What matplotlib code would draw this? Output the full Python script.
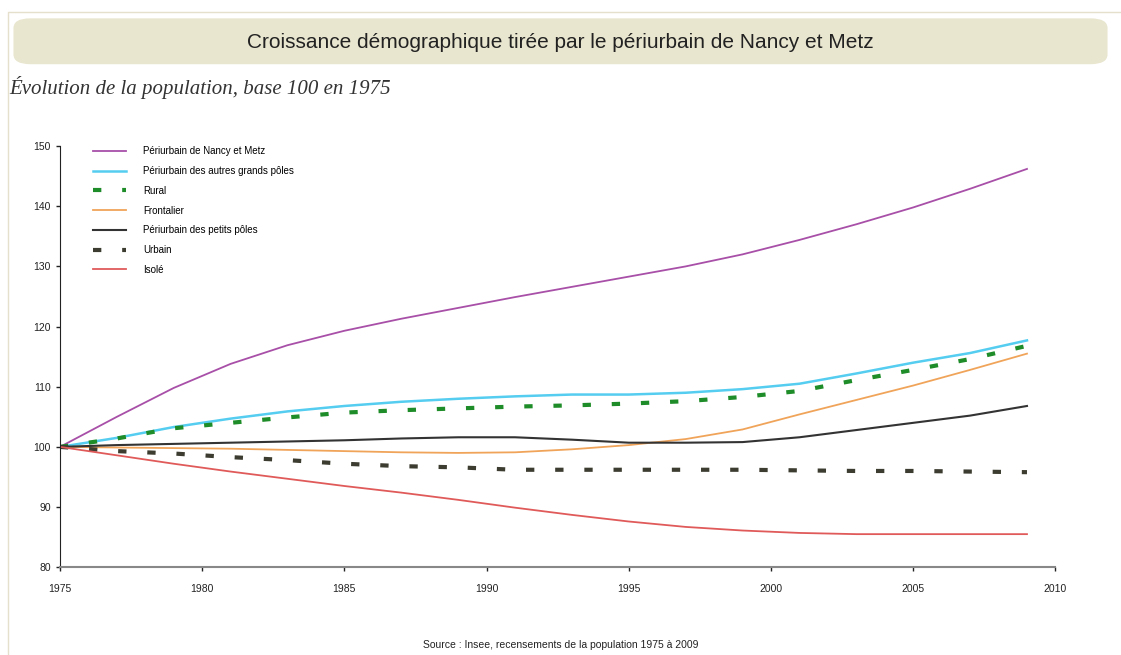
import matplotlib
matplotlib.use('Agg')
import matplotlib.pyplot as plt
from matplotlib.patches import FancyBboxPatch
from matplotlib.lines import Line2D

# --- Data ---
YEARS = [1975, 1977, 1979, 1981, 1983, 1985, 1987, 1989, 1991,
         1993, 1995, 1997, 1999, 2001, 2003, 2005, 2007, 2009]

NANCY_METZ = [100, 105.0, 109.8, 113.8, 116.9, 119.3, 121.3, 123.1, 124.9,
              126.6, 128.3, 130.0, 132.0, 134.4, 137.0, 139.8, 142.9, 146.2]
AUTRES_GRANDS = [100, 101.5, 103.3, 104.7, 105.9, 106.8, 107.5, 108.0, 108.4,
                 108.7, 108.7, 109.0, 109.6, 110.5, 112.2, 114.0, 115.6, 117.7]
RURAL = [100, 101.4, 103.1, 104.0, 104.9, 105.7, 106.1, 106.4, 106.7,
         106.9, 107.2, 107.6, 108.3, 109.3, 111.1, 112.8, 114.6, 116.8]
FRONTALIER = [100, 99.9, 99.8, 99.7, 99.5, 99.3, 99.1, 99.0, 99.1,
              99.6, 100.3, 101.3, 102.9, 105.4, 107.8, 110.2, 112.8, 115.5]
PETITS_POLES = [100, 100.3, 100.5, 100.7, 100.9, 101.1, 101.4, 101.6, 101.6,
                101.2, 100.7, 100.7, 100.8, 101.6, 102.8, 104.0, 105.2, 106.8]
URBAIN = [100, 99.3, 98.9, 98.3, 97.8, 97.2, 96.8, 96.6, 96.2,
          96.2, 96.2, 96.2, 96.2, 96.1, 96.0, 96.0, 95.9, 95.8]
ISOLE = [100, 98.6, 97.2, 95.9, 94.7, 93.5, 92.4, 91.2, 89.9,
         88.7, 87.6, 86.7, 86.1, 85.7, 85.5, 85.5, 85.5, 85.5]

SERIES = [
    ('Périurbain de Nancy et Metz', NANCY_METZ, '#a84fa8', '-', 1.3),
    ('Périurbain des autres grands pôles', AUTRES_GRANDS, '#55cdf0', '-', 1.8),
    ('Rural', RURAL, '#1e8c28', (0, (2, 5)), 3.0),
    ('Frontalier', FRONTALIER, '#f0a45a', '-', 1.3),
    ('Périurbain des petits pôles', PETITS_POLES, '#333333', '-', 1.5),
    ('Urbain', URBAIN, '#3c3c30', (0, (2, 5)), 3.0),
    ('Isolé', ISOLE, '#e05a5a', '-', 1.3),
]

X_TICKS = [1975, 1980, 1985, 1990, 1995, 2000, 2005, 2010]
Y_TICKS = [80, 90, 100, 110, 120, 130, 140, 150]

plt.rcParams['font.family'] = ['Liberation Sans', 'DejaVu Sans']

fig = plt.figure(figsize=(11.21, 6.55), dpi=100)

# faint frame on top / left edge
fig.lines.append(Line2D([0.007, 0.007, 1.0], [0.0, 0.982, 0.982],
                        transform=fig.transFigure, color='#e4e0cc', linewidth=1))

# Title banner
banner = FancyBboxPatch((0.012, 0.902), 0.976, 0.07,
                        boxstyle='round,pad=0,rounding_size=0.015',
                        transform=fig.transFigure, facecolor='#e9e6cf',
                        edgecolor='none')
fig.patches.append(banner)
fig.text(0.5, 0.935, 'Croissance démographique tirée par le périurbain de Nancy et Metz',
         ha='center', va='center', fontsize=15, color='#222222')
fig.text(0.008, 0.866, 'Évolution de la population, base 100 en 1975',
         ha='left', va='center', fontsize=15, style='italic',
         family=['Liberation Serif', 'DejaVu Serif'], color='#333333')

ax = fig.add_axes([0.0535, 0.134, 0.888, 0.643])
for label, values, color, ls, lw in SERIES:
    ax.plot(YEARS, values, color=color, linestyle=ls, linewidth=lw, label=label)

ax.set_xlim(1975, 2010)
ax.set_ylim(80, 150)
ax.set_xticks(X_TICKS)
ax.set_yticks(Y_TICKS)
ax.tick_params(labelsize=7.5, length=3, width=1, colors='#222222')
ax.tick_params(axis='x', pad=9)
ax.spines['top'].set_visible(False)
ax.spines['right'].set_visible(False)
ax.spines['left'].set_color('#222222')
ax.spines['bottom'].set_color('#888888')
ax.spines['bottom'].set_linewidth(1.5)

ax.legend(loc='upper left', bbox_to_anchor=(0.024, 1.02), frameon=False,
          fontsize=7, handlelength=3.4, handletextpad=1.8, labelspacing=1.0)

fig.text(0.5, 0.015, 'Source : Insee, recensements de la population 1975 à 2009',
         ha='center', va='center', fontsize=7.5, color='#222222')

fig.savefig('out.png', dpi=100, facecolor='white')
